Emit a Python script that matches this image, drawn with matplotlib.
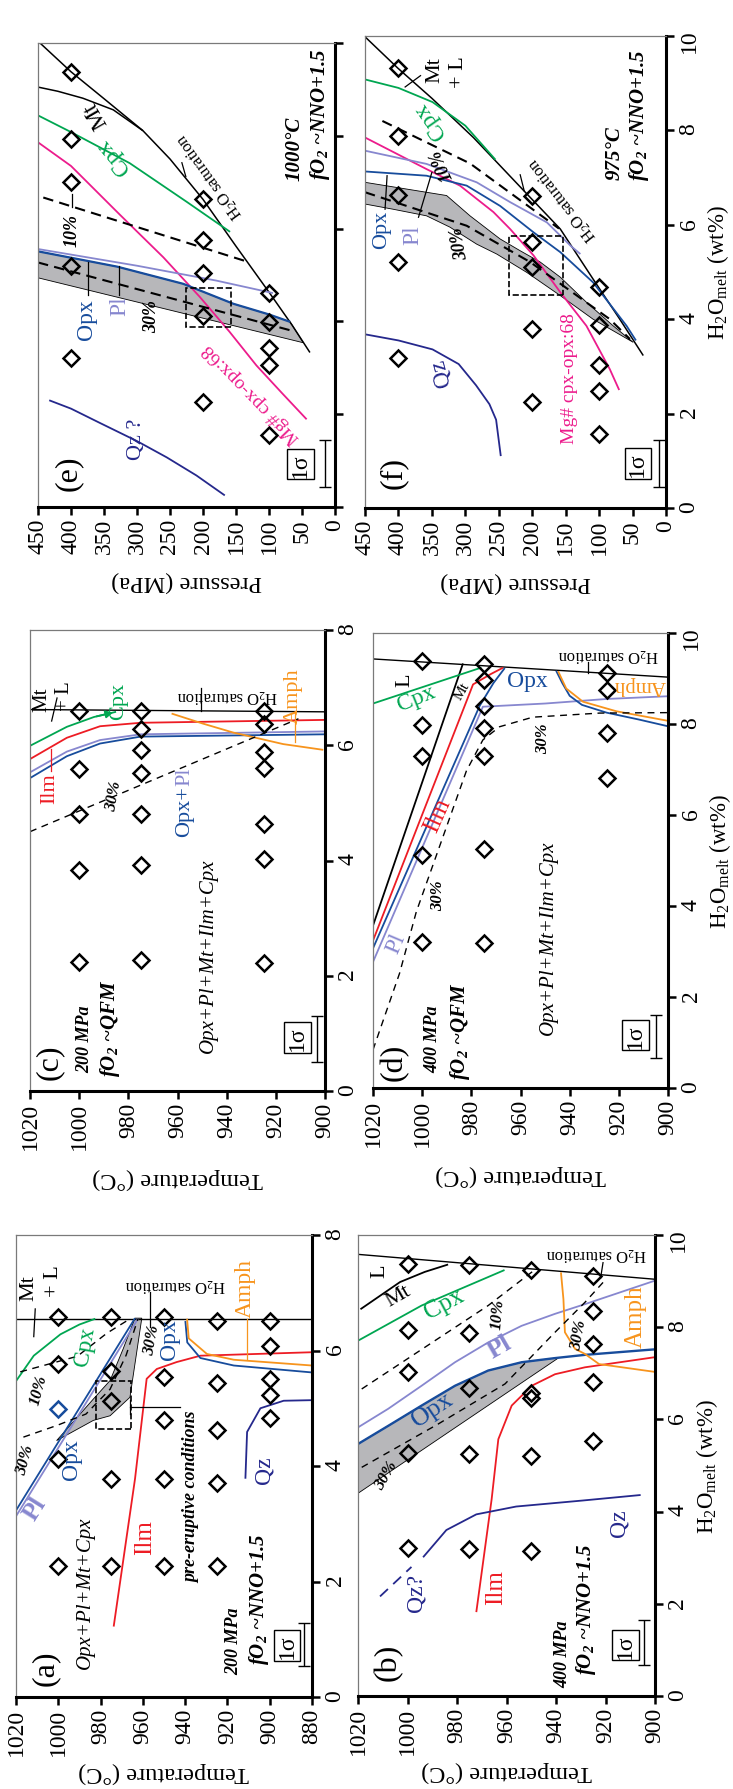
import numpy as np
import matplotlib
matplotlib.use('Agg')
import matplotlib.pyplot as plt
from matplotlib.patches import Rectangle

plt.rcParams['font.family'] = ['Liberation Serif', 'DejaVu Serif']
plt.rcParams['mathtext.fontset'] = 'stix'
plt.rcParams['mathtext.default'] = 'regular'

GREEN = '#00a651'
RED = '#ed1c24'
PL = '#8787cf'
OPX = '#174c9c'
QZ = '#25288c'
MAG = '#ec1c8c'
ORANGE = '#f7941d'
BAND = '#b7b7ba'

# ---------------- panel (e): 1000 C, NNO+1.5  (x = pressure MPa, y = H2O wt%)
e_sat_P = [447, 400, 350, 291, 250, 200, 150, 99, 65, 38]
e_sat_H = [10.0, 9.38, 8.80, 8.11, 7.50, 6.63, 5.62, 4.61, 3.92, 3.33]
e_mt_P = [450, 420, 382, 336, 291]
e_mt_H = [9.05, 8.96, 8.81, 8.56, 8.11]
e_cpx_P = [450, 400, 311, 225, 159]
e_cpx_H = [8.44, 8.08, 7.41, 6.58, 5.93]
e_mg_P = [450, 400, 326, 260, 205, 160, 119, 80, 43]
e_mg_H = [7.86, 7.35, 6.30, 5.38, 4.53, 3.78, 3.05, 2.45, 1.89]
e_pl_P = [450, 300, 180, 94]
e_pl_H = [5.56, 5.20, 4.88, 4.61]
e_opx_P = [450, 330, 230, 154, 100, 68]
e_opx_H = [5.51, 5.18, 4.81, 4.38, 4.15, 3.99]
e_tip = (48, 3.54)
e_lo_P = [450, 48]
e_lo_H = [4.94, 3.54]
e_30_P = [450, 63]
e_30_H = [5.27, 3.79]
e_10_P = [442, 129]
e_10_H = [6.67, 5.27]
e_qz_P = [433, 400, 356, 300, 255, 210, 167]
e_qz_H = [2.30, 2.12, 1.81, 1.42, 1.07, 0.68, 0.25]
e_rect = (158, 226, 3.88, 4.71)
e_pts_P = [400] * 5 + [200] * 5 + [100] * 5
e_pts_H = [9.38, 7.94, 7.00, 5.19, 3.21, 6.63, 5.76, 5.04, 4.12, 2.26,
           4.61, 3.99, 3.42, 3.05, 1.56]
e_sig = (15, 0.94, 0.5)

# ---------------- panel (f): 975 C, NNO+1.5
f_sat_P = [449, 401, 350, 288, 203, 158, 109, 70, 34]
f_sat_H = [9.97, 9.32, 8.68, 7.85, 6.58, 5.91, 4.85, 4.02, 3.23]
f_cpx_P = [450, 400, 349, 300, 255]
f_cpx_H = [9.08, 8.90, 8.60, 8.10, 7.38]
f_mg_P = [450, 358, 308, 258, 233, 198, 158, 119, 84, 70]
f_mg_H = [7.85, 7.18, 6.83, 6.27, 5.91, 5.35, 4.57, 3.86, 2.94, 2.50]
f_pl_P = [450, 358, 283, 233, 178, 143, 128]
f_pl_H = [7.57, 7.29, 6.90, 6.48, 6.05, 5.56, 5.38]
f_opx_P = [450, 358, 298, 248, 198, 158, 109, 59, 45]
f_opx_H = [7.13, 7.04, 6.83, 6.40, 5.84, 5.42, 4.78, 3.86, 3.55]
f_up_P = [450, 328, 293, 248, 218, 188, 158, 119, 79, 49]
f_up_H = [6.90, 6.62, 6.19, 5.70, 5.45, 5.21, 4.89, 4.36, 3.86, 3.51]
f_lo_P = [450, 408, 358, 323, 283, 253, 208, 158, 109, 49]
f_lo_H = [6.44, 6.33, 6.19, 5.95, 5.59, 5.38, 4.99, 4.50, 4.00, 3.51]
f_30_P = [450, 298, 203, 84, 54]
f_30_H = [6.69, 5.98, 5.21, 4.00, 3.58]
f_10_P = [424, 293, 160]
f_10_H = [8.20, 7.30, 5.92]
f_qz_P = [450, 400, 349, 310, 284, 264, 254, 247]
f_qz_H = [3.68, 3.55, 3.36, 3.05, 2.60, 2.20, 1.87, 1.10]
f_rect = (154, 235, 4.52, 5.77)
f_pts_P = [400] * 5 + [200] * 5 + [100] * 5
f_pts_H = [9.32, 7.88, 6.64, 5.22, 3.18, 6.60, 5.63, 5.11, 3.79, 2.25,
           4.68, 3.88, 3.04, 2.47, 1.56]
f_sig = (10, 0.95, 0.5)

# ---------------- panel (c): 200 MPa, QFM  (x = temperature C)
c_sat_T = [1020, 900]
c_sat_H = [6.62, 6.58]
c_cpx_T = [1020, 1005, 994, 985]
c_cpx_H = [5.99, 6.32, 6.49, 6.58]
c_ilm_T = [1020, 1005, 991.5, 975, 900]
c_ilm_H = [5.76, 6.13, 6.33, 6.39, 6.44]
c_pl_T = [1020, 1005, 991.5, 975, 900]
c_pl_H = [5.53, 5.89, 6.09, 6.19, 6.24]
c_opx_T = [1020, 1005, 991.5, 975, 900]
c_opx_H = [5.43, 5.81, 6.03, 6.15, 6.19]
c_amph_T = [962.4, 950, 937.3, 917, 900.7]
c_amph_H = [6.55, 6.38, 6.22, 6.02, 5.92]
c_30_T = [1020, 910.8]
c_30_H = [4.50, 6.46]
c_pts_T = [1000] * 5 + [975] * 7 + [925] * 7
c_pts_H = [6.60, 5.59, 4.80, 3.83, 2.24,
           6.60, 6.29, 5.92, 5.51, 4.80, 3.93, 2.27,
           6.59, 6.37, 5.89, 5.61, 4.63, 4.03, 2.22]
c_sig = (903.4, 0.91, 0.4)

# ---------------- panel (d): 400 MPa, QFM
d_sat_T = [1020, 900]
d_sat_H = [9.43, 9.03]
d_l_T = [1020, 983.4]
d_l_H = [3.57, 9.33]
d_cpx_T = [1020, 975.9]
d_cpx_H = [8.45, 9.24]
d_ilm_T = [1020, 979.3, 972, 967]
d_ilm_H = [3.24, 8.87, 9.10, 9.24]
d_opx_T = [1020, 976.6, 971, 966.4]
d_opx_H = [3.07, 8.40, 8.90, 9.23]
d_pl_T = [1020, 975.3, 950, 925, 900]
d_pl_H = [2.77, 8.38, 8.45, 8.55, 8.61]
d_opx2_T = [945.5, 943, 940, 935, 925, 912, 900]
d_opx2_H = [9.17, 8.90, 8.62, 8.42, 8.25, 8.10, 7.95]
d_amph_T = [944.7, 941.4, 934.6, 921, 900]
d_amph_H = [9.16, 8.78, 8.49, 8.28, 8.07]
d_30_T = [1020, 1014.6, 1009.2, 1002.4, 982, 975.3, 968.5, 955, 927.8, 900]
d_30_H = [0.84, 1.68, 2.52, 3.87, 6.97, 7.65, 7.94, 8.15, 8.24, 8.25]
d_pts_T = [1000] * 5 + [975] * 7 + [925] * 4
d_pts_H = [9.39, 7.97, 7.29, 5.11, 3.21,
           9.31, 8.97, 8.40, 7.92, 7.29, 5.25, 3.19,
           9.12, 8.74, 7.80, 6.82]
d_sig = (904.7, 1.13, 0.47)

# ---------------- panel (a): 200 MPa, NNO+1.5
a_sat_T = [1020, 880]
a_sat_H = [6.55, 6.55]
a_cpx_T = [1020, 1011.6, 999, 990, 982.5]
a_cpx_H = [5.47, 5.91, 6.28, 6.45, 6.55]
a_opx_T = [1020, 963.7]
a_opx_H = [3.23, 6.56]
a_pl_T = [1020, 962.3]
a_pl_H = [3.13, 6.55]
a_up_T = [1000.8, 983.4, 975.5, 969.3, 963.7]
a_up_H = [4.44, 5.16, 5.48, 6.03, 6.56]
a_lo_T = [1000.8, 983.4, 975.5, 966.1, 960.5]
a_lo_H = [4.44, 4.79, 4.87, 5.19, 6.56]
a_30_T = [1016.5, 1000.8, 986.9, 975.5, 967.9, 962.3]
a_30_H = [4.50, 4.70, 4.90, 5.33, 5.92, 6.55]
a_10_T = [1018, 991, 977, 966]
a_10_H = [5.63, 5.90, 6.30, 6.55]
a_ilm_T = [973.8, 963.7, 958.2, 953.4, 944, 932.8, 880]
a_ilm_H = [1.22, 3.78, 5.51, 5.68, 5.80, 5.91, 5.97]
a_opx2_T = [939.9, 939, 932.8, 917, 880]
a_opx2_H = [6.51, 6.14, 5.87, 5.74, 5.62]
a_amph_T = [939.1, 938.3, 929.7, 917, 880]
a_amph_H = [6.55, 6.21, 5.94, 5.84, 5.74]
a_qz_T = [911.5, 910.7, 904.4, 893.4, 880]
a_qz_H = [3.78, 4.59, 5.00, 5.13, 5.14]
a_rect = (965.8, 982.2, 4.64, 5.48)
a_pts_T = [1000] * 4 + [975] * 5 + [950] * 5 + [925] * 5 + [900] * 5
a_pts_H = [6.58, 5.77, 4.12, 2.26,
           6.58, 5.64, 5.13, 3.78, 2.26,
           6.58, 5.54, 4.79, 3.78, 2.26,
           6.51, 5.43, 4.62, 3.71, 2.26,
           6.51, 6.08, 5.50, 5.23, 4.83]
a_blue_pt = (1000, 4.98)
a_sig = (883.9, 0.91, 0.37)

# ---------------- panel (b): 400 MPa, NNO+1.5
b_sat_T = [1020, 900]
b_sat_H = [9.58, 9.04]
b_mt_T = [1019, 1003, 993, 983.6]
b_mt_H = [8.39, 8.98, 9.20, 9.36]
b_cpx_T = [1019.9, 994.3, 960.8]
b_cpx_H = [7.71, 8.47, 9.24]
b_pl_T = [1019.9, 1007.8, 994.3, 980.8, 967.4, 953.9, 940.4, 928.3, 900]
b_pl_H = [5.83, 6.23, 6.73, 7.24, 7.67, 8.03, 8.29, 8.50, 9.01]
b_opx_T = [1019.9, 1007.8, 994.3, 980.8, 967.4, 953.9, 940.4, 928.3, 900]
b_opx_H = [5.47, 5.86, 6.30, 6.73, 7.06, 7.24, 7.33, 7.40, 7.52]
b_lo_T = [1019.9, 939.1]
b_lo_H = [4.40, 7.33]
b_30_T = [1018.5, 987.6, 960.6, 940.4, 928.3, 920]
b_30_H = [4.96, 5.90, 6.77, 7.89, 8.54, 9.03]
b_10_T = [1018.5, 967.4, 948.7]
b_10_H = [6.66, 8.47, 9.24]
b_ilm_T = [972.2, 966, 963.3, 957.9, 949.8, 940.4, 928.3, 900]
b_ilm_H = [1.82, 4.27, 5.57, 6.30, 6.73, 6.98, 7.13, 7.35]
b_qz_T = [993.7, 984.3, 972.2, 956.1, 929.3, 905.8]
b_qz_H = [3.01, 3.60, 3.94, 4.11, 4.24, 4.36]
b_qzq_T = [1011.1, 998.4]
b_qzq_H = [2.16, 2.80]
b_amph_T = [938, 937, 936.4, 932.3, 928.3, 922.6, 900]
b_amph_H = [9.19, 8.61, 7.89, 7.53, 7.42, 7.20, 7.03]
b_pts_T = [1000] * 5 + [975] * 5 + [950] * 5 + [925] * 5
b_pts_H = [9.38, 7.94, 7.02, 5.27, 3.22,
           9.35, 7.88, 6.68, 5.25, 3.18,
           9.24, 6.58, 6.46, 5.21, 3.14,
           9.11, 8.35, 7.63, 6.82, 5.53]
b_sig = (904.4, 1.16, 0.49)

# frames of the six panels in pixels of the 733x1790 page (x0, y0, x1, y1)
W, H = 733, 1790
FRAMES = {'e': (38, 44, 335, 508), 'f': (365, 37, 666, 509),
          'c': (30, 631, 325, 1092), 'd': (373, 634, 668, 1089),
          'a': (16, 1236, 312, 1698), 'b': (358, 1236, 655, 1697)}

fig = plt.figure(figsize=(W / 100, H / 100), dpi=100)


def make_axes(key, xlim, xticks, ylim, yticks, xlabel, ylabels=True, ylabel=None, xpad=8):
    x0, y0, x1, y1 = FRAMES[key]
    ax = fig.add_axes([x0 / W, 1 - y1 / H, (x1 - x0) / W, (y1 - y0) / H])
    ax.set_xlim(*xlim)
    ax.set_ylim(*ylim)
    ax.set_xticks(xticks)
    ax.set_yticks(yticks)
    ax.yaxis.tick_right()
    for s in ['left', 'top']:
        ax.spines[s].set_linewidth(0.9)
        ax.spines[s].set_color('#7a7a7a')
    for s in ['bottom', 'right']:
        ax.spines[s].set_linewidth(2.2)
    ax.tick_params(axis='x', direction='out', length=6, width=1.8, labelsize=17,
                   labelrotation=90, pad=2)
    ax.tick_params(axis='y', direction='out', length=6, width=1.8, labelsize=17,
                   labelrotation=90, pad=3, labelright=ylabels)
    ax.set_xlabel(xlabel, rotation=180, fontsize=17.5, labelpad=xpad)
    if ylabel:
        ax.yaxis.set_label_position('right')
        ax.set_ylabel(ylabel, rotation=90, fontsize=16.5, labelpad=4)
    return ax


def line(ax, x, y, color='k', lw=1.3, **kw):
    ax.plot(x, y, color=color, lw=lw, solid_capstyle='butt', **kw)


def dashed(ax, x, y, lw=1.0, dash=(5, 4)):
    ax.plot(x, y, color='k', lw=lw, dashes=dash)


def band(ax, xu, yu, xl, yl):
    ax.fill(np.concatenate([xu, xl[::-1]]), np.concatenate([yu, yl[::-1]]),
            fc=BAND, ec='k', lw=0.6, zorder=1)


def diamonds(ax, x, y, color='k'):
    ax.plot(x, y, ls='none', marker='D', ms=8.2, mfc='none', mec=color, mew=1.8, zorder=5)


def sigma(ax, bar, box_xy):
    x, yc, half = bar
    ax.errorbar([x], [yc], yerr=[[half], [half]], fmt='none', ecolor='k',
                elinewidth=1.0, capsize=4, capthick=1.0)
    ax.text(box_xy[0], box_xy[1], '1\u03c3', rotation=90, fontsize=17, ha='center',
            va='center', rotation_mode='anchor',
            bbox=dict(boxstyle='square,pad=0.12', fc='none', ec='k', lw=1.0))


def rect(ax, r):
    x0, x1, y0, y1 = r
    ax.add_patch(Rectangle((x0, y0), x1 - x0, y1 - y0, fill=False, ls='--', lw=1.2,
                           ec='k', zorder=4))


def leaders(ax, segs, color='k'):
    for (xa, ya), (xb, yb) in segs:
        ax.plot([xa, xb], [ya, yb], color=color, lw=0.9)


def put(ax, items):
    for s, x, y, rot, col, size, st in items:
        ax.text(x, y, s, rotation=rot, color=col, fontsize=size,
                fontstyle='italic' if 'i' in st else 'normal',
                fontweight='bold' if 'b' in st else 'normal',
                ha='center', va='center', rotation_mode='anchor', zorder=6)


P_TICKS = list(range(0, 451, 50))
H10 = list(range(0, 11, 2))
H8 = list(range(0, 9, 2))
T_C = list(range(900, 1021, 20))
T_A = list(range(880, 1021, 20))
HLAB = 'H$_2$O$_{melt}$ (wt%)'
SAT = 'H$_2$O saturation'

# ---------------------------------------------------------------- (e)
ax = make_axes('e', (450, 0), P_TICKS, (0, 10), H10, 'Pressure (MPa)', ylabels=False,
               xpad=12)
band(ax, np.array(e_opx_P + [e_tip[0]]), np.array(e_opx_H + [e_tip[1]]),
     np.array(e_lo_P), np.array(e_lo_H))
line(ax, e_sat_P, e_sat_H, lw=1.1)
line(ax, e_mt_P, e_mt_H, lw=1.1)
line(ax, e_cpx_P, e_cpx_H, GREEN)
line(ax, e_mg_P, e_mg_H, MAG)
line(ax, e_pl_P, e_pl_H, PL)
line(ax, e_opx_P, e_opx_H, OPX, lw=1.6)
line(ax, e_qz_P, e_qz_H, QZ)
dashed(ax, e_30_P, e_30_H, lw=1.5, dash=(5, 3))
dashed(ax, e_10_P, e_10_H, lw=1.5, dash=(5, 3))
rect(ax, e_rect)
diamonds(ax, e_pts_P, e_pts_H)
sigma(ax, e_sig, (52, 0.92))
leaders(ax, [((375, 4.57), (375, 5.27)), ((327, 4.57), (327, 5.19)),
             ((399, 6.46), (399, 6.75)), ((226, 7.12), (232, 7.42))])
put(ax, [('(e)', 404, 0.74, 90, 'k', 23, 'n'),
         ('Qz ?', 301, 1.48, 90, QZ, 16, 'n'),
         ('Mg# cpx-opx:68', 126, 2.47, 134, MAG, 14, 'n'),
         ('Opx', 376, 4.07, 90, OPX, 17, 'n'),
         ('Pl', 326, 4.36, 90, PL, 17, 'n'),
         ('30%', 278, 4.12, 90, 'k', 13, 'bi'),
         ('10%', 399, 5.97, 90, 'k', 13, 'bi'),
         ('Cpx', 336, 7.57, 130, GREEN, 17, 'n'),
         ('Mt', 362, 8.48, 120, 'k', 17, 'n'),
         (SAT, 190, 7.16, 126, 'k', 12, 'n'),
         ('1000\u00b0C', 61, 7.74, 90, 'k', 15, 'bi'),
         ('fO$_2$ ~NNO+1.5', 23, 8.48, 90, 'k', 15, 'bi')])

# ---------------------------------------------------------------- (f)
ax = make_axes('f', (450, 0), P_TICKS, (0, 10), H10, 'Pressure (MPa)', ylabel=HLAB,
               xpad=12)
band(ax, np.array(f_up_P), np.array(f_up_H), np.array(f_lo_P), np.array(f_lo_H))
line(ax, f_sat_P, f_sat_H, lw=1.1)
line(ax, f_cpx_P, f_cpx_H, GREEN)
line(ax, f_mg_P, f_mg_H, MAG)
line(ax, f_pl_P, f_pl_H, PL)
line(ax, f_opx_P, f_opx_H, OPX)
line(ax, f_qz_P, f_qz_H, QZ)
dashed(ax, f_30_P, f_30_H, lw=1.5, dash=(5, 3))
dashed(ax, f_10_P, f_10_H, lw=1.5, dash=(5, 3))
rect(ax, f_rect)
diamonds(ax, f_pts_P, f_pts_H)
sigma(ax, f_sig, (42, 0.94))
leaders(ax, [((420, 6.33), (417, 7.04)), ((370, 6.16), (350, 7.11)),
             ((390, 8.92), (367, 9.16)), ((212, 6.72), (218, 7.06))])
put(ax, [('(f)', 407, 0.77, 90, 'k', 23, 'n'),
         ('Qz', 337, 2.88, 105, QZ, 17, 'n'),
         ('Mg# cpx-opx:68', 145, 2.76, 90, MAG, 14, 'n'),
         ('Opx', 425, 5.91, 90, OPX, 16, 'n'),
         ('Pl', 378, 5.80, 90, PL, 17, 'n'),
         ('30%', 308, 5.63, 100, 'k', 13, 'bi'),
         ('10%', 335, 7.29, 115, 'k', 13, 'bi'),
         ('Cpx', 352, 8.23, 125, GREEN, 17, 'n'),
         ('Mt', 345, 9.29, 90, 'k', 16, 'n'),
         ('+ L', 310, 9.25, 90, 'k', 16, 'n'),
         (SAT, 155, 6.57, 128, 'k', 12, 'n'),
         ('975\u00b0C', 77, 7.54, 90, 'k', 15, 'bi'),
         ('fO$_2$ ~NNO+1.5', 40, 8.35, 90, 'k', 15, 'bi')])

# ---------------------------------------------------------------- (c)
ax = make_axes('c', (1020, 900), T_C, (0, 8), H8, 'Temperature (\u00b0C)', xpad=13)
line(ax, c_sat_T, c_sat_H, lw=1.0)
line(ax, c_cpx_T, c_cpx_H, GREEN)
ax.annotate('', xy=(c_cpx_T[-1], c_cpx_H[-1]), xytext=(c_cpx_T[-2], c_cpx_H[-2]),
            arrowprops=dict(arrowstyle='-|>', color=GREEN, lw=1.3, mutation_scale=11))
line(ax, c_ilm_T, c_ilm_H, RED)
line(ax, c_pl_T, c_pl_H, PL)
line(ax, c_opx_T, c_opx_H, OPX)
line(ax, c_amph_T, c_amph_H, ORANGE)
dashed(ax, c_30_T, c_30_H)
diamonds(ax, c_pts_T, c_pts_H)
sigma(ax, c_sig, (911.3, 0.93))
leaders(ax, [((1011.2, 6.42), (1009, 6.82)), ((950.5, 6.60), (950.5, 6.99))])
leaders(ax, [((1011.5, 5.56), (1011.5, 5.93))], RED)
leaders(ax, [((912.2, 6.06), (912.2, 6.59))], ORANGE)
put(ax, [('(c)', 1012, 0.51, 90, 'k', 23, 'n'),
         ('200 MPa', 997.6, 0.91, 90, 'k', 13, 'bi'),
         ('fO$_2$ ~QFM', 987.5, 1.11, 90, 'k', 15, 'bi'),
         ('Opx+Pl+Mt+Ilm+Cpx', 947.5, 2.37, 90, 'k', 15, 'i'),
         ('30%', 986, 5.13, 80, 'k', 12, 'bi'),
         ('Ilm', 1012, 5.26, 90, RED, 16, 'n'),
         ('Cpx', 984, 6.78, 90, GREEN, 16, 'n'),
         ('Mt', 1015.3, 6.81, 90, 'k', 15, 'n'),
         ('+ L', 1005.8, 6.87, 90, 'k', 15, 'n'),
         (SAT, 940, 6.87, 180, 'k', 12, 'n'),
         ('Amph', 912.9, 6.87, 90, ORANGE, 16, 'n')])
ax.text(957, 5.31, 'Opx+', rotation=90, color=OPX, fontsize=16, ha='right',
        va='center', rotation_mode='anchor')
ax.text(957, 5.31, 'Pl', rotation=90, color=PL, fontsize=16, ha='left',
        va='center', rotation_mode='anchor')

# ---------------------------------------------------------------- (d)
ax = make_axes('d', (1020, 900), T_C, (0, 10), H10, 'Temperature (\u00b0C)',
               ylabel=HLAB, xpad=13)
line(ax, d_sat_T, d_sat_H, lw=1.0)
line(ax, d_l_T, d_l_H)
line(ax, d_cpx_T, d_cpx_H, GREEN)
line(ax, d_ilm_T, d_ilm_H, RED)
line(ax, d_opx_T, d_opx_H, OPX)
line(ax, d_pl_T, d_pl_H, PL)
line(ax, d_opx2_T, d_opx2_H, OPX)
line(ax, d_amph_T, d_amph_H, ORANGE)
dashed(ax, d_30_T, d_30_H)
diamonds(ax, d_pts_T, d_pts_H)
sigma(ax, d_sig, (913.2, 1.16))
leaders(ax, [((932.5, 9.12), (932.5, 9.37))])
put(ax, [('(d)', 1011.2, 0.59, 90, 'k', 23, 'n'),
         ('400 MPa', 995.6, 1.09, 90, 'k', 13, 'bi'),
         ('fO$_2$ ~QFM', 984.7, 1.26, 90, 'k', 15, 'bi'),
         ('Opx+Pl+Mt+Ilm+Cpx', 948.8, 3.32, 90, 'k', 15, 'i'),
         ('Pl', 1010.5, 3.19, 67, PL, 17, 'n'),
         ('30%', 993.6, 4.24, 90, 'k', 12, 'bi'),
         ('30%', 950.8, 7.69, 90, 'k', 12, 'bi'),
         ('Ilm', 993.6, 6.00, 66, RED, 18, 'n'),
         ('Cpx', 1002.4, 8.57, 22, GREEN, 17, 'n'),
         ('L', 1007.1, 8.99, 90, 'k', 16, 'n'),
         ('Mt', 984, 8.74, 60, 'k', 11, 'n'),
         ('Opx', 957, 8.95, 0, OPX, 17, 'n'),
         ('Amph', 911.5, 8.87, 180, ORANGE, 15, 'n'),
         (SAT, 924.4, 9.54, 180, 'k', 12, 'n')])

# ---------------------------------------------------------------- (a)
ax = make_axes('a', (1020, 880), T_A, (0, 8), H8, 'Temperature (\u00b0C)', xpad=4)
band(ax, np.array(a_up_T), np.array(a_up_H), np.array(a_lo_T), np.array(a_lo_H))
line(ax, a_sat_T, a_sat_H, lw=1.0)
line(ax, a_cpx_T, a_cpx_H, GREEN)
line(ax, a_pl_T, a_pl_H, PL)
line(ax, a_opx_T, a_opx_H, OPX)
line(ax, a_ilm_T, a_ilm_H, RED)
line(ax, a_opx2_T, a_opx2_H, OPX)
line(ax, a_amph_T, a_amph_H, ORANGE)
line(ax, a_qz_T, a_qz_H, QZ)
dashed(ax, a_30_T, a_30_H)
dashed(ax, a_10_T, a_10_H)
rect(ax, a_rect)
diamonds(ax, a_pts_T, a_pts_H)
diamonds(ax, [a_blue_pt[0]], [a_blue_pt[1]], OPX)
sigma(ax, a_sig, (891.8, 0.89))
leaders(ax, [((1011.6, 6.24), (1010.9, 6.72)), ((956.5, 6.41), (956.5, 7.02)),
             ((965.9, 5.02), (942.3, 5.02)), ((966, 4.90), (966, 5.14))])
leaders(ax, [((910.7, 5.85), (910.7, 6.55))], ORANGE)
put(ax, [('(a)', 1006, 0.51, 90, 'k', 23, 'n'),
         ('Opx+Pl+Mt+Cpx', 987.2, 1.82, 90, 'k', 15, 'i'),
         ('Ilm', 958.8, 2.77, 90, RED, 18, 'n'),
         ('Pl', 1010.9, 3.27, 58, PL, 18, 'b'),
         ('Opx', 993.7, 4.12, 90, OPX, 17, 'n'),
         ('Cpx', 987.4, 6.08, 80, GREEN, 17, 'n'),
         ('10%', 1009.4, 5.33, 75, 'k', 12, 'bi'),
         ('30%', 1015.7, 4.12, 75, 'k', 12, 'bi'),
         ('30%', 955.8, 6.20, 80, 'k', 12, 'bi'),
         ('Opx', 947.2, 6.20, 90, OPX, 17, 'n'),
         ('pre-eruptive conditions', 936.8, 3.48, 90, 'k', 13, 'bi'),
         ('200 MPa', 917, 0.98, 90, 'k', 13, 'bi'),
         ('fO$_2$ ~NNO+1.5', 905.2, 1.72, 90, 'k', 15, 'bi'),
         ('Qz', 902.9, 3.95, 90, QZ, 17, 'n'),
         ('Amph', 911.5, 7.09, 90, ORANGE, 17, 'n'),
         ('Mt', 1014, 7.09, 90, 'k', 16, 'n'),
         ('+ L', 1002.2, 7.22, 90, 'k', 16, 'n'),
         (SAT, 944.6, 7.16, 180, 'k', 12, 'n')])

# ---------------------------------------------------------------- (b)
ax = make_axes('b', (1020, 900), T_C, (0, 10), H10, 'Temperature (\u00b0C)',
               ylabel=HLAB, xpad=4)
band(ax, np.array(b_opx_T[:7] + [b_lo_T[1]]), np.array(b_opx_H[:7] + [b_lo_H[1]]),
     np.array(b_lo_T), np.array(b_lo_H))
line(ax, b_sat_T, b_sat_H, lw=1.0)
line(ax, b_mt_T, b_mt_H)
line(ax, b_cpx_T, b_cpx_H, GREEN)
line(ax, b_pl_T, b_pl_H, PL)
line(ax, b_opx_T, b_opx_H, OPX, lw=1.7)
line(ax, b_ilm_T, b_ilm_H, RED)
line(ax, b_qz_T, b_qz_H, QZ)
ax.plot(b_qzq_T, b_qzq_H, color=QZ, lw=1.3, dashes=(6, 4))
line(ax, b_amph_T, b_amph_H, ORANGE)
dashed(ax, b_30_T, b_30_H)
dashed(ax, b_10_T, b_10_H)
diamonds(ax, b_pts_T, b_pts_H)
sigma(ax, b_sig, (911.8, 1.10))
leaders(ax, [((922, 9.06), (921, 9.40))])
put(ax, [('(b)', 1007.8, 0.76, 90, 'k', 23, 'n'),
         ('Qz?', 996.4, 2.25, 90, QZ, 17, 'n'),
         ('Ilm', 964.2, 2.37, 90, RED, 18, 'n'),
         ('Qz', 914.5, 3.77, 90, QZ, 17, 'n'),
         ('Opx', 989.7, 6.23, 34, OPX, 19, 'n'),
         ('Pl', 962.8, 7.58, 30, PL, 19, 'b'),
         ('Cpx', 985, 8.52, 28, GREEN, 18, 'n'),
         ('Mt', 1003.8, 8.69, 30, 'k', 16, 'n'),
         ('L', 1011.2, 9.24, 90, 'k', 16, 'n'),
         ('10%', 963.5, 8.31, 85, 'k', 12, 'bi'),
         ('30%', 930.6, 7.84, 80, 'k', 12, 'bi'),
         ('30%', 1008.5, 4.79, 60, 'k', 12, 'bi'),
         ('Amph', 907.8, 8.26, 90, ORANGE, 18, 'n'),
         (SAT, 923.9, 9.62, 180, 'k', 12, 'n'),
         ('400 MPa', 937.3, 0.93, 90, 'k', 13, 'bi'),
         ('fO$_2$ ~NNO+1.5', 927.9, 1.91, 90, 'k', 15, 'bi')])

fig.savefig('out.png', dpi=100)
